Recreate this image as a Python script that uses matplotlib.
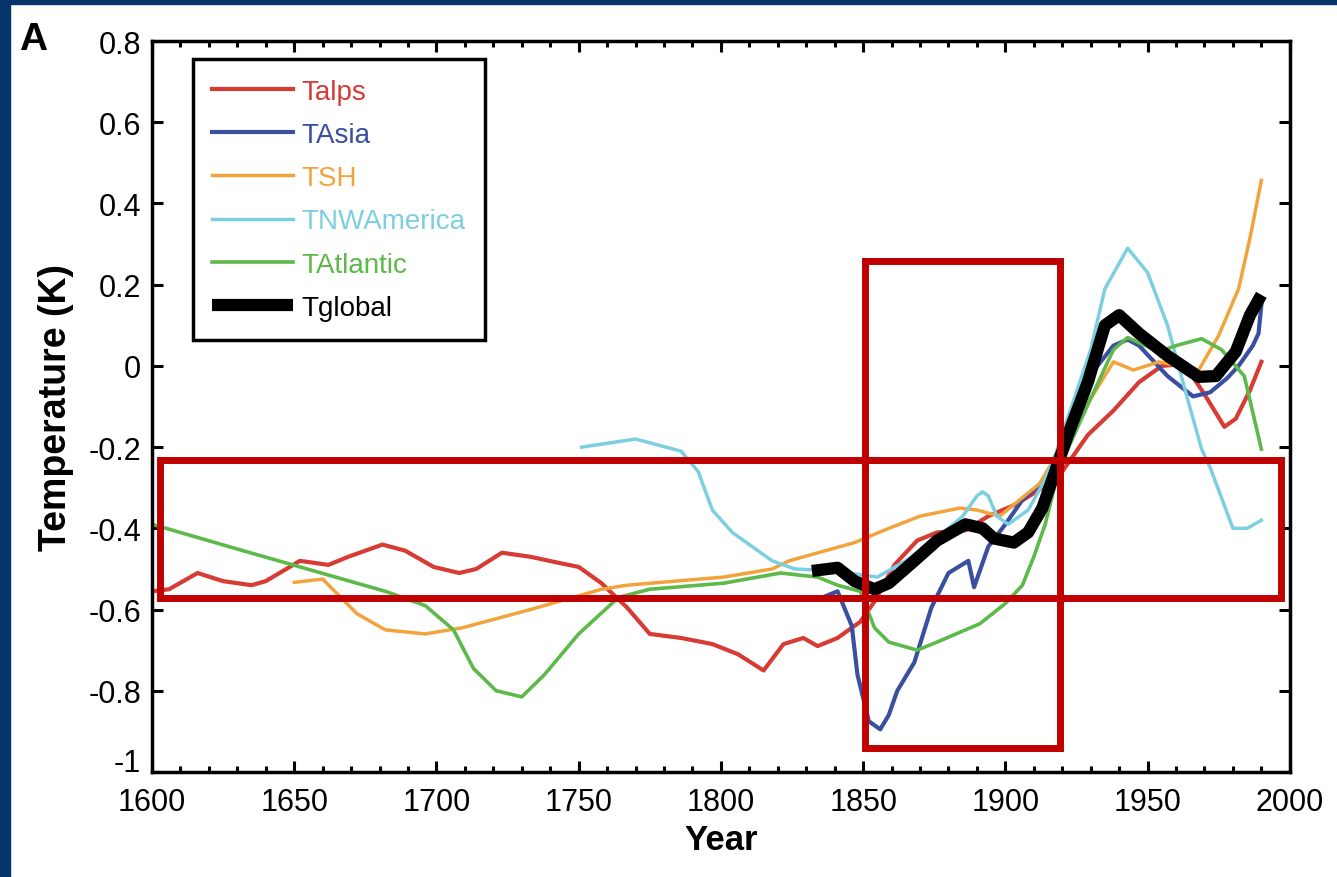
import matplotlib
matplotlib.use('Agg')
import matplotlib.pyplot as plt
import matplotlib.transforms as mtransforms
from matplotlib.patches import Rectangle
from matplotlib.ticker import MultipleLocator

plt.rcParams['font.family'] = ['Liberation Sans', 'DejaVu Sans']

# values
yrs_alps = [1600, 1606, 1616, 1625, 1635, 1640, 1652, 1662, 1669, 1681, 1689, 1699, 1708, 1714,
            1723, 1733, 1743, 1750, 1758, 1767, 1775, 1786, 1797, 1806, 1815, 1822, 1829, 1834,
            1841, 1849, 1854, 1861, 1869, 1876, 1886, 1894, 1904, 1913, 1920, 1929, 1938, 1947,
            1955, 1963, 1970, 1977, 1981, 1986, 1990]
t_alps = [-0.555, -0.55, -0.51, -0.53, -0.54, -0.53, -0.48, -0.49, -0.47, -0.44, -0.455, -0.495,
          -0.51, -0.50, -0.46, -0.47, -0.485, -0.495, -0.535, -0.595, -0.66, -0.67, -0.685, -0.71,
          -0.75, -0.685, -0.67, -0.69, -0.67, -0.63, -0.58, -0.49, -0.43, -0.41, -0.405, -0.37,
          -0.34, -0.30, -0.26, -0.17, -0.11, -0.04, 0.0, 0.005, -0.07, -0.15, -0.13, -0.06, 0.01]

yrs_asia = [1834, 1841, 1846, 1848, 1852, 1856, 1859, 1862, 1868, 1874, 1880, 1887, 1889, 1894,
            1900, 1906, 1914, 1921, 1929, 1938, 1943, 1947, 1957, 1966, 1972, 1978, 1982, 1987,
            1989, 1990]
t_asia = [-0.575, -0.555, -0.64, -0.76, -0.875, -0.895, -0.86, -0.80, -0.73, -0.595, -0.51, -0.48,
          -0.545, -0.445, -0.39, -0.33, -0.28, -0.17, -0.03, 0.05, 0.065, 0.05, -0.025, -0.075,
          -0.065, -0.03, 0.0, 0.05, 0.08, 0.15]

yrs_sh = [1650, 1660, 1672, 1682, 1696, 1709, 1733, 1758, 1767, 1801, 1818, 1824, 1847, 1859,
          1870, 1884, 1890, 1898, 1912, 1923, 1938, 1945, 1954, 1968, 1975, 1982, 1986, 1990]
t_sh = [-0.533, -0.525, -0.61, -0.65, -0.66, -0.645, -0.60, -0.55, -0.54, -0.52, -0.50, -0.48,
        -0.435, -0.40, -0.37, -0.35, -0.355, -0.37, -0.29, -0.16, 0.01, -0.01, 0.01, -0.01, 0.075,
        0.19, 0.315, 0.457]

yrs_nwa = [1751, 1770, 1786, 1792, 1797, 1804, 1818, 1826, 1840, 1855, 1865, 1875, 1885, 1890,
           1892, 1894, 1897, 1901, 1908, 1914, 1918, 1930, 1935, 1943, 1950, 1957, 1964, 1969,
           1972, 1980, 1985, 1990]
t_nwa = [-0.20, -0.18, -0.21, -0.26, -0.355, -0.41, -0.48, -0.50, -0.505, -0.52, -0.48, -0.43,
         -0.37, -0.32, -0.31, -0.32, -0.37, -0.39, -0.355, -0.28, -0.21, 0.04, 0.19, 0.29, 0.23,
         0.10, -0.08, -0.205, -0.25, -0.40, -0.40, -0.38]

yrs_atl = [1600, 1632, 1657, 1682, 1696, 1706, 1713, 1721, 1730, 1738, 1750, 1764, 1775, 1801,
           1821, 1834, 1841, 1849, 1854, 1859, 1869, 1876, 1891, 1900, 1906, 1910, 1914, 1919,
           1930, 1938, 1943, 1954, 1960, 1969, 1976, 1984, 1990]
t_atl = [-0.39, -0.455, -0.505, -0.555, -0.59, -0.65, -0.745, -0.80, -0.815, -0.76, -0.66, -0.57,
         -0.55, -0.535, -0.51, -0.52, -0.54, -0.555, -0.645, -0.68, -0.70, -0.68, -0.635, -0.585,
         -0.54, -0.47, -0.39, -0.25, -0.08, 0.04, 0.07, 0.035, 0.05, 0.067, 0.04, -0.025, -0.205]

yrs_glob = [1832, 1841, 1847, 1854, 1859, 1868, 1876, 1886, 1892, 1896, 1903, 1908, 1913, 1922,
            1929, 1935, 1940, 1947, 1957, 1968, 1974, 1981, 1986, 1990]
t_glob = [-0.505, -0.497, -0.53, -0.55, -0.535, -0.48, -0.43, -0.39, -0.40, -0.425, -0.435, -0.41,
          -0.35, -0.17, -0.04, 0.10, 0.125, 0.08, 0.025, -0.027, -0.025, 0.035, 0.125, 0.175]

xticks = [1600, 1650, 1700, 1750, 1800, 1850, 1900, 1950, 2000]
yticks = [-1, -0.8, -0.6, -0.4, -0.2, 0, 0.2, 0.4, 0.6, 0.8]
ytick_labels = ['-1', '-0.8', '-0.6', '-0.4', '-0.2', '0', '0.2', '0.4', '0.6', '0.8']

fig = plt.figure(figsize=(13.37, 8.78), dpi=100)
ax = fig.add_axes([0.1137, 0.1196, 0.851, 0.8325])

ax.plot(yrs_alps, t_alps, color='#d83a34', lw=3.0, label='Talps')
ax.plot(yrs_asia, t_asia, color='#3a4fa0', lw=3.0, label='TAsia')
ax.plot(yrs_sh, t_sh, color='#f3a33b', lw=2.5, label='TSH')
ax.plot(yrs_nwa, t_nwa, color='#7ccfe0', lw=2.5, label='TNWAmerica')
ax.plot(yrs_atl, t_atl, color='#5db94a', lw=2.6, label='TAtlantic')
ax.plot(yrs_glob, t_glob, color='black', lw=8.8, solid_capstyle='butt', label='Tglobal')

ax.set_xlim(1600, 2000)
ax.set_ylim(-1, 0.8)
ax.set_xticks(xticks)
ax.xaxis.set_minor_locator(MultipleLocator(10))
ax.set_yticks(yticks)
ax.set_yticklabels(ytick_labels)
ax.tick_params(which='both', direction='in', top=True, right=True, width=2.2,
               labelsize=22, pad=8, colors='black')
ax.tick_params(axis='x', pad=11)
ax.tick_params(which='major', length=8)
ax.tick_params(which='minor', length=4)
ax.tick_params(axis='y', which='minor', left=False, right=False)
for s in ax.spines.values():
    s.set_linewidth(2.5)

# the "-1" label sits a little higher in the original
lab = ax.get_yticklabels()[0]
lab.set_transform(lab.get_transform() + mtransforms.ScaledTranslation(0, 12 / 100, fig.dpi_scale_trans))

ax.set_xlabel('Year', fontsize=25, fontweight='bold', labelpad=4)
ax.set_ylabel('Temperature (K)', fontsize=27, fontweight='bold', labelpad=10)

leg = ax.legend(loc='upper left', bbox_to_anchor=(0.036, 0.975), borderaxespad=0,
                fontsize=20, handlelength=2.9, handletextpad=0.3, labelspacing=0.62,
                borderpad=0.7, fancybox=False, framealpha=1)
leg.get_frame().set_edgecolor('black')
leg.get_frame().set_linewidth(2.5)
for txt, ln in zip(leg.get_texts(), leg.get_lines()):
    txt.set_color(ln.get_color())

# red highlight boxes drawn over the chart
ax.add_patch(Rectangle((1850.5, -0.94), 68.8, 1.198, fill=False, ec='#c00000', lw=5,
                       clip_on=False, zorder=10))
ax.add_patch(Rectangle((1602.8, -0.571), 394, 0.34, fill=False, ec='#c00000', lw=5,
                       clip_on=False, zorder=10))

# panel letter and dark slide border
fig.text(0.014, 0.975, 'A', fontsize=28, fontweight='bold', va='top', ha='left')
fig.patches.append(Rectangle((0, 0), 10 / 1337, 1, transform=fig.transFigure,
                             color='#05356b', zorder=0))
fig.patches.append(Rectangle((0, 1 - 5 / 878), 1, 5 / 878, transform=fig.transFigure,
                             color='#05356b', zorder=0))

plt.savefig('out.png', dpi=100)
